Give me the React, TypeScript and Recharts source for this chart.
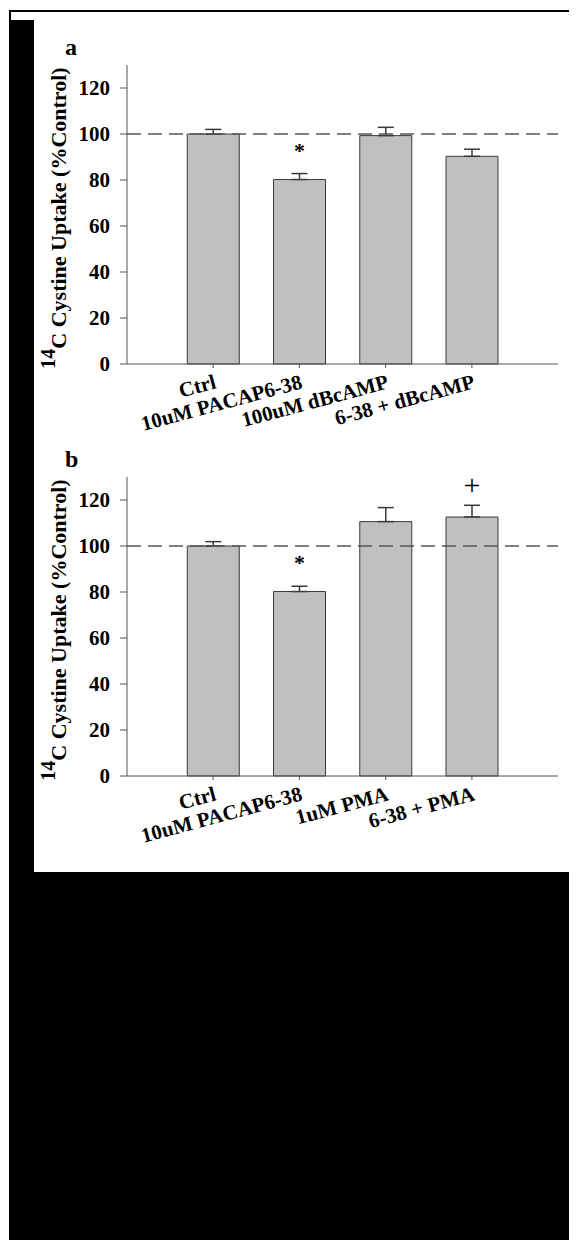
import React from "react";
import {
  BarChart,
  Bar,
  XAxis,
  YAxis,
  ErrorBar,
  ReferenceLine,
  ReferenceDot,
} from "recharts";

// panel a
const categoriesA = ["Ctrl", "10uM PACAP6-38", "100uM dBcAMP", "6-38 + dBcAMP"];
const meansA = [100, 80.2, 99.3, 90.3];
const errorsA = [2.0, 2.6, 3.6, 3.1];
const marksA = ["", "*", "", ""];
const markLevelsA = [0, 94.5, 0, 0];

// panel b
const categoriesB = ["Ctrl", "10uM PACAP6-38", "1uM PMA", "6-38 + PMA"];
const meansB = [100, 80.2, 110.6, 112.6];
const errorsB = [1.9, 2.3, 6.1, 5.1];
const marksB = ["", "*", "", "+"];
const markLevelsB = [0, 94.2, 0, 125.8];

const yTicks = [0, 20, 40, 60, 80, 100, 120];
const controlLevel = 100;

const FONT = '"Liberation Serif", "Times New Roman", serif';
const AXIS = "#555";

const XTick = (props: any) => {
  const { x, y, payload } = props;
  const tx = x + 4;
  const ty = y + 18;
  return (
    <text
      x={tx}
      y={ty}
      transform={`rotate(-15, ${tx}, ${ty})`}
      textAnchor="end"
      fontFamily={FONT}
      fontWeight="bold"
      fontSize={21}
      fill="#000"
    >
      {payload.value}
    </text>
  );
};

const makeLabel = (letter: string) => () => (
  <g fontFamily={FONT} fontWeight="bold" fill="#000">
    <text x={57} y={47} fontSize={24}>
      {letter}
    </text>
    <text
      x={58}
      y={210}
      fontSize={22}
      textAnchor="middle"
      transform="rotate(-90, 58, 210)"
    >
      <tspan fontSize={20} dy={-11}>14</tspan>
      <tspan dy={11}>C Cystine Uptake (%Control)</tspan>
    </text>
  </g>
);

interface PanelProps {
  letter: string;
  categories: string[];
  means: number[];
  errors: number[];
  marks: string[];
  markLevels: number[];
  top: number;
}

const Panel: React.FC<PanelProps> = ({ letter, categories, means, errors, marks, markLevels, top }) => {
  const data = categories.map((name, i) => ({
    name,
    mean: means[i],
    err: [0, errors[i]],
  }));
  return (
    <div style={{ position: "absolute", left: 0, top }}>
      <BarChart
        width={569}
        height={412}
        data={data}
        barCategoryGap="20%"
        margin={{ top: 57, right: 19, left: 59, bottom: 16 }}
      >
        <XAxis
          dataKey="name"
          height={40}
          interval={0}
          padding={{ left: 43, right: 43 }}
          tickSize={4}
          axisLine={{ stroke: AXIS }}
          tickLine={{ stroke: AXIS }}
          tick={XTick}
        />
        <YAxis
          width={60}
          domain={[0, 130]}
          ticks={yTicks}
          tickSize={7}
          tickMargin={10}
          axisLine={{ stroke: AXIS }}
          tickLine={{ stroke: AXIS }}
          tick={{ fontFamily: FONT, fontWeight: "bold", fontSize: 21, fill: "#000" }}
          label={makeLabel(letter)}
        />
        <Bar dataKey="mean" fill="#c0c0c0" stroke="#3a3a3a" strokeWidth={1} isAnimationActive={false}>
          <ErrorBar dataKey="err" direction="y" width={8} stroke="#3a3a3a" strokeWidth={1.5} />
        </Bar>
        <ReferenceLine y={controlLevel} stroke={AXIS} strokeWidth={1.5} strokeDasharray="14 7" />
        {marks.map((m, i) =>
          m ? (
            <ReferenceDot
              key={i}
              x={categories[i]}
              y={markLevels[i]}
              r={0}
              shape={(p: any) => (
                <text
                  x={p.cx}
                  y={p.cy + (m === "+" ? 8 : 11)}
                  textAnchor="middle"
                  fontFamily={FONT}
                  fontWeight={m === "*" ? "bold" : "normal"}
                  fontSize={m === "+" ? 30 : 22}
                  fill="#000"
                >
                  {m}
                </text>
              )}
            />
          ) : null
        )}
      </BarChart>
    </div>
  );
};

export default function App() {
  return (
    <div style={{ position: "relative", width: 569, height: 1235 }}>
      <style>{`.recharts-surface { overflow: visible; }`}</style>
      <div style={{ position: "absolute", left: 1, top: 2, width: 568, height: 2, background: "#000" }} />
      <div style={{ position: "absolute", left: 1, top: 2, width: 2, height: 1230, background: "#000" }} />
      <div style={{ position: "absolute", left: 1, top: 12, width: 25, height: 852, background: "#000" }} />
      <div style={{ position: "absolute", left: 1, top: 864, width: 568, height: 368, background: "#000" }} />
      <Panel
        letter="a"
        categories={categoriesA}
        means={meansA}
        errors={errorsA}
        marks={marksA}
        markLevels={markLevelsA}
        top={0}
      />
      <Panel
        letter="b"
        categories={categoriesB}
        means={meansB}
        errors={errorsB}
        marks={marksB}
        markLevels={markLevelsB}
        top={412}
      />
    </div>
  );
}
